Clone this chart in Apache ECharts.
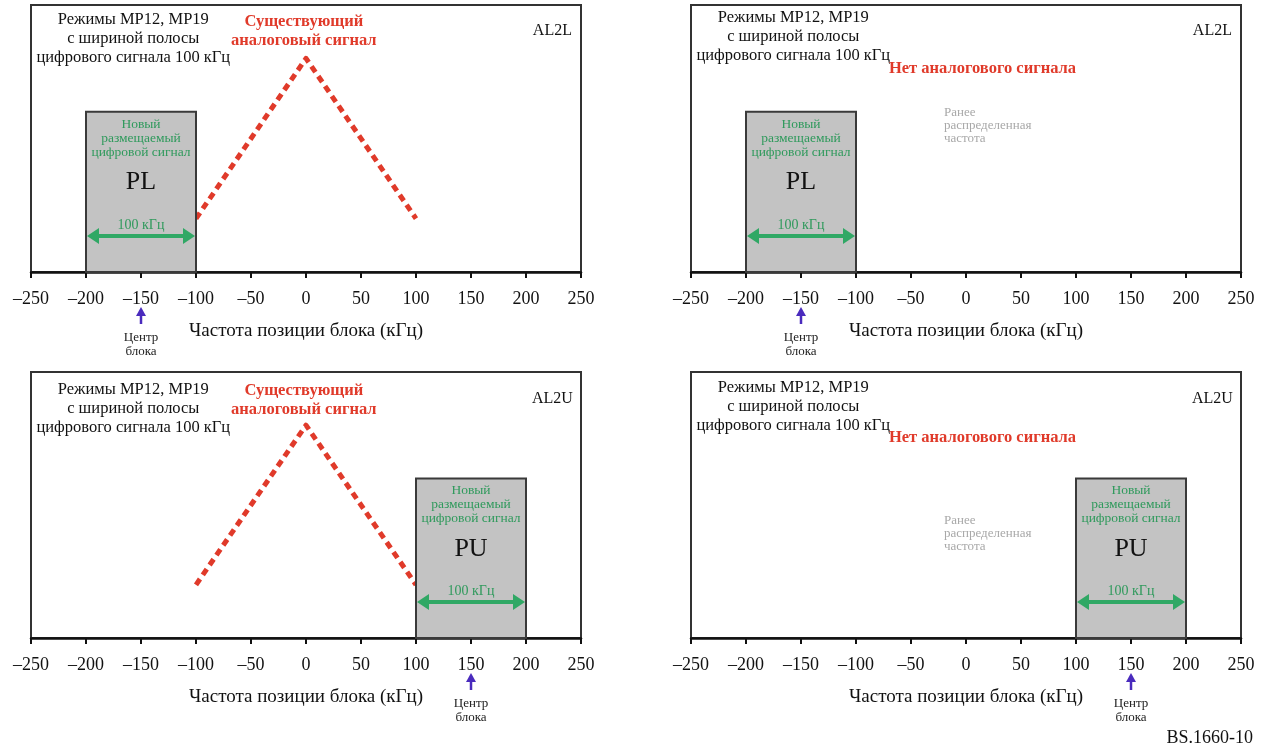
<!DOCTYPE html>
<html><head><meta charset="utf-8">
<script src="https://cdn.jsdelivr.net/npm/echarts@6/dist/echarts.min.js"></script>
<style>html,body{margin:0;padding:0;background:#fff}#c{width:1264px;height:749px}</style>
</head><body><div id="c"></div>
<script>
// ---- data ----
const xMin = -250, xMax = 250, xStep = 50;
const yMin = 0, yMax = 100;
const analogX = [-100, 0, 100];
const analogY = [20, 80, 20];
const blockPL = [-200, -100];
const blockPU = [100, 200];
const blockLevel = 60;
const bandArrowLevel = 13.5;
const centerPL = -150;
const centerPU = 150;
const axisTitle = 'Частота позиции блока (кГц)';
const modeText = 'Режимы MP12, MP19\nс шириной полосы\nцифрового сигнала 100 кГц';
const analogText = 'Существующий\nаналоговый сигнал';
const noAnalogText = 'Нет аналогового сигнала';
const prevText = 'Ранее\nраспределенная\nчастота';
const newSigText = 'Новый\nразмещаемый\nцифровой сигнал';
const bwText = '100 кГц';
const centerText = 'Центр\nблока';
const figId = 'BS.1660-10';

// ---- styles ----
const SERIF = '"Liberation Serif", "DejaVu Serif", serif';
const RED = '#e03a2a', GREEN_T = '#2f9a5c', GREEN_A = '#30a865', PURPLE = '#4a2bbd';

const panels = [
  {grid:{left:31, top:5, width:550, height:267}, block:blockPL, name:'PL', center:centerPL, analog:true, tag:'AL2L', modeY:87.3, prevY:null},
  {grid:{left:691, top:5, width:550, height:267}, block:blockPL, name:'PL', center:centerPL, analog:false, tag:'AL2L', modeY:88.2, prevY:54.7},
  {grid:{left:31, top:372, width:550, height:266}, block:blockPU, name:'PU', center:centerPU, analog:true, tag:'AL2U', modeY:86.1, prevY:39.3},
  {grid:{left:691, top:372, width:550, height:266}, block:blockPU, name:'PU', center:centerPU, analog:false, tag:'AL2U', modeY:86.9, prevY:39.3}
];

const grids = [], xAxes = [], yAxes = [], series = [];

panels.forEach((p, i) => {
  grids.push(Object.assign({show:true, borderColor:'#333', borderWidth:2, backgroundColor:'transparent'}, p.grid));
  xAxes.push({
    gridIndex:i, type:'value', min:xMin, max:xMax, interval:xStep,
    axisLine:{onZero:false, lineStyle:{color:'#111', width:2.5}},
    axisTick:{length:6, lineStyle:{color:'#111', width:2}},
    axisLabel:{fontFamily:SERIF, fontSize:18, color:'#111', margin:18, formatter:v => String(v).replace('-', '\u2013')},
    splitLine:{show:false},
    name:axisTitle, nameLocation:'middle', nameGap:50,
    nameTextStyle:{fontFamily:SERIF, fontSize:19, color:'#111'}
  });
  yAxes.push({gridIndex:i, type:'value', min:yMin, max:yMax, show:false, splitLine:{show:false}});

  // block (gray rectangle + labels + bandwidth arrow)
  series.push({
    type:'custom', xAxisIndex:i, yAxisIndex:i, z:3, clip:false,
    encode:{x:[0,1], y:2},
    data:[[p.block[0], p.block[1], blockLevel]],
    renderItem:(params, api) => {
      const x0 = api.value(0), x1 = api.value(1), h = api.value(2);
      const a = api.coord([x0, h]), b = api.coord([x1, 0]);
      const cx = (a[0] + b[0]) / 2;
      const ay = api.coord([x0, bandArrowLevel])[1];
      const ty = v => api.coord([x0, v])[1];
      const L = a[0] + 1, R = b[0] - 1, hl = 12, hw = 8;
      return {type:'group', children:[
        {type:'rect', shape:{x:a[0], y:a[1], width:b[0]-a[0], height:b[1]-a[1]}, style:{fill:'#c3c3c3', stroke:'#3a3a3a', lineWidth:2}},
        {type:'line', shape:{x1:L+hl-2, y1:ay, x2:R-hl+2, y2:ay}, style:{stroke:GREEN_A, lineWidth:4}},
        {type:'polygon', shape:{points:[[L, ay], [L+hl, ay-hw], [L+hl, ay+hw]]}, style:{fill:GREEN_A}},
        {type:'polygon', shape:{points:[[R, ay], [R-hl, ay-hw], [R-hl, ay+hw]]}, style:{fill:GREEN_A}},
        {type:'text', x:cx, y:ty(50.2), style:{text:newSigText, fill:GREEN_T, font:'13.5px ' + SERIF, align:'center', verticalAlign:'middle', lineHeight:14}},
        {type:'text', x:cx, y:ty(33.5), style:{text:p.name, fill:'#111', font:'26px ' + SERIF, align:'center', verticalAlign:'middle'}},
        {type:'text', x:cx, y:ty(17.5), style:{text:bwText, fill:GREEN_T, font:'14px ' + SERIF, align:'center', verticalAlign:'middle'}}
      ]};
    }
  });

  // block centre marker
  series.push({
    type:'custom', xAxisIndex:i, yAxisIndex:i, z:3, clip:false,
    data:[[p.center, 0]],
    renderItem:(params, api) => {
      const c = api.coord([api.value(0), api.value(1)]);
      const x = c[0], y = c[1];
      return {type:'group', children:[
        {type:'polygon', shape:{points:[[x, y+35], [x-5, y+44], [x+5, y+44]]}, style:{fill:PURPLE}},
        {type:'line', shape:{x1:x, y1:y+42, x2:x, y2:y+52}, style:{stroke:PURPLE, lineWidth:2.5}},
        {type:'text', x:x, y:y+73, style:{text:centerText, fill:'#222', font:'13px ' + SERIF, align:'center', verticalAlign:'middle', lineHeight:14}}
      ]};
    }
  });

  if (p.analog) {
    series.push({
      type:'line', xAxisIndex:i, yAxisIndex:i, z:2,
      data:analogX.map((x, k) => [x, analogY[k]]),
      symbol:'none', silent:true,
      lineStyle:{color:RED, width:5, type:[7,5], cap:'butt', join:'round'}
    });
  }

  // text notes
  const notes = [
    {x:-157, y:p.modeY, text:modeText, font:'16.5px ' + SERIF, fill:'#111', align:'center', lh:19},
    {x:224, y:(i < 2 ? 90.3 : 90), text:p.tag, font:'16px ' + SERIF, fill:'#111', align:'center', lh:19}
  ];
  if (p.analog) notes.push({x:-2, y:(i < 2 ? 90 : 89.5), text:analogText, font:'bold 16.5px ' + SERIF, fill:RED, align:'center', lh:19});
  else {
    notes.push({x:15, y:(i < 2 ? 76 : 75.3), text:noAnalogText, font:'bold 16.5px ' + SERIF, fill:RED, align:'center', lh:19});
    notes.push({x:-20, y:p.prevY, text:prevText, font:'13px ' + SERIF, fill:'#a8a8a8', align:'left', lh:13});
  }
  series.push({
    type:'custom', xAxisIndex:i, yAxisIndex:i, z:4, clip:false,
    data:notes.map(n => [n.x, n.y]),
    renderItem:(params, api) => {
      const n = notes[params.dataIndex];
      const c = api.coord([api.value(0), api.value(1)]);
      return {type:'text', x:c[0], y:c[1], style:{text:n.text, fill:n.fill, font:n.font, align:n.align, verticalAlign:'middle', lineHeight:n.lh}};
    }
  });
});

const chart = echarts.init(document.getElementById('c'), null, {renderer:'canvas'});
chart.setOption({
  animation:false,
  backgroundColor:'#fff',
  grid:grids, xAxis:xAxes, yAxis:yAxes, series:series,
  graphic:[{type:'text', right:11, bottom:2, style:{text:figId, fill:'#111', font:'18px ' + SERIF}}]
});
</script></body></html>
